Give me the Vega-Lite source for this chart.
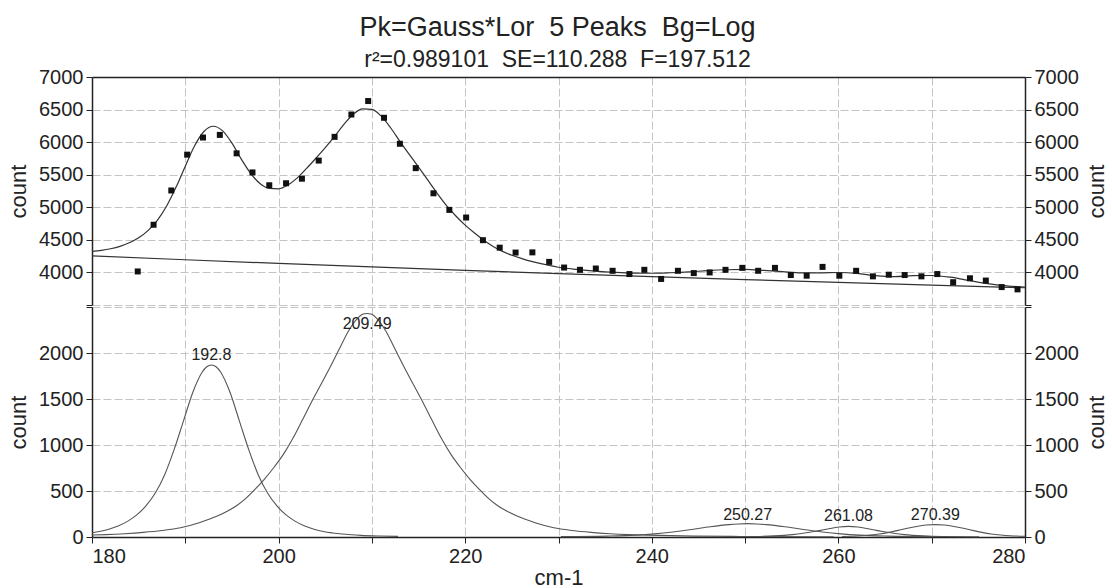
{
  "$schema": "https://vega.github.io/schema/vega-lite/v6.json",
  "background": "white",
  "padding": {"left": 7, "right": 0, "top": 14, "bottom": 0},
  "title": {
    "text": "Pk=Gauss*Lor\u00a0 5 Peaks\u00a0 Bg=Log",
    "subtitle": "r²=0.989101\u00a0 SE=110.288\u00a0 F=197.512",
    "font": "Liberation Sans", "fontSize": 27, "fontWeight": "normal", "color": "#222",
    "subtitleFont": "Liberation Sans", "subtitleFontSize": 23, "subtitleColor": "#222",
    "anchor": "middle", "offset": -6, "subtitlePadding": 7
  },
  "config": {
    "view": {"stroke": null},
    "axis": {
      "labelFont": "Liberation Sans", "labelFontSize": 20, "labelColor": "#222",
      "titleFont": "Liberation Sans", "titleFontSize": 22, "titleFontWeight": "normal", "titleColor": "#222",
      "domainColor": "#222", "domainWidth": 1.5, "tickColor": "#222", "tickSize": 6, "labelPadding": 3,
      "gridColor": "#c4c4c4", "gridDash": [8, 3], "gridWidth": 1
    }
  },
  "datasets": {
    "bg": [
      {"x": 180, "y": 4255}, {"x": 190, "y": 4195}, {"x": 200, "y": 4138}, {"x": 210, "y": 4084},
      {"x": 220, "y": 4032}, {"x": 230, "y": 3983}, {"x": 240, "y": 3936}, {"x": 250, "y": 3891},
      {"x": 260, "y": 3847}, {"x": 270, "y": 3805}, {"x": 280, "y": 3765}
    ],
    "fit": [
      {"x": 180, "y": 4324}, {"x": 181, "y": 4339}, {"x": 182, "y": 4364}, {"x": 183, "y": 4401},
      {"x": 184, "y": 4455}, {"x": 185, "y": 4532}, {"x": 186, "y": 4642}, {"x": 187, "y": 4798},
      {"x": 188, "y": 5019}, {"x": 189, "y": 5306}, {"x": 190, "y": 5631}, {"x": 191, "y": 5945},
      {"x": 192, "y": 6163}, {"x": 193, "y": 6244}, {"x": 194, "y": 6173}, {"x": 195, "y": 5985},
      {"x": 196, "y": 5740}, {"x": 197, "y": 5522}, {"x": 198, "y": 5365}, {"x": 199, "y": 5290},
      {"x": 200, "y": 5284}, {"x": 201, "y": 5341}, {"x": 202, "y": 5451}, {"x": 203, "y": 5597},
      {"x": 204, "y": 5753}, {"x": 205, "y": 5915}, {"x": 206, "y": 6089}, {"x": 207, "y": 6272},
      {"x": 208, "y": 6429}, {"x": 209, "y": 6512}, {"x": 210, "y": 6502}, {"x": 211, "y": 6399},
      {"x": 212, "y": 6221}, {"x": 213, "y": 6013}, {"x": 214, "y": 5812}, {"x": 215, "y": 5617},
      {"x": 216, "y": 5416}, {"x": 217, "y": 5214}, {"x": 218, "y": 5025}, {"x": 219, "y": 4866},
      {"x": 220, "y": 4726}, {"x": 221, "y": 4604}, {"x": 222, "y": 4494}, {"x": 223, "y": 4399},
      {"x": 224, "y": 4323}, {"x": 225, "y": 4264}, {"x": 226, "y": 4216}, {"x": 227, "y": 4173},
      {"x": 228, "y": 4139}, {"x": 229, "y": 4107}, {"x": 230, "y": 4080}, {"x": 232, "y": 4046},
      {"x": 234, "y": 4020}, {"x": 236, "y": 4001}, {"x": 238, "y": 3989}, {"x": 240, "y": 3987},
      {"x": 242, "y": 3995}, {"x": 244, "y": 4008}, {"x": 246, "y": 4028}, {"x": 248, "y": 4041},
      {"x": 250, "y": 4046}, {"x": 252, "y": 4031}, {"x": 254, "y": 4011}, {"x": 256, "y": 3992},
      {"x": 258, "y": 3992}, {"x": 260, "y": 3999}, {"x": 262, "y": 3985}, {"x": 264, "y": 3950},
      {"x": 266, "y": 3935}, {"x": 268, "y": 3950}, {"x": 270, "y": 3953}, {"x": 272, "y": 3927},
      {"x": 274, "y": 3877}, {"x": 276, "y": 3827}, {"x": 278, "y": 3794}, {"x": 280, "y": 3776}
    ],
    "pts": [
      {"x": 184.9, "y": 4015}, {"x": 186.6, "y": 4732}, {"x": 188.5, "y": 5258}, {"x": 190.2, "y": 5808},
      {"x": 191.9, "y": 6071}, {"x": 193.7, "y": 6111}, {"x": 195.5, "y": 5828}, {"x": 197.2, "y": 5535},
      {"x": 199.0, "y": 5338}, {"x": 200.8, "y": 5369}, {"x": 202.5, "y": 5439}, {"x": 204.3, "y": 5717},
      {"x": 206.0, "y": 6081}, {"x": 207.8, "y": 6424}, {"x": 209.6, "y": 6631}, {"x": 211.3, "y": 6374},
      {"x": 213.0, "y": 5975}, {"x": 214.7, "y": 5601}, {"x": 216.6, "y": 5215}, {"x": 218.3, "y": 4960},
      {"x": 220.1, "y": 4843}, {"x": 221.9, "y": 4495}, {"x": 223.7, "y": 4380}, {"x": 225.4, "y": 4305},
      {"x": 227.2, "y": 4308}, {"x": 229.0, "y": 4162}, {"x": 230.6, "y": 4075}, {"x": 232.3, "y": 4040},
      {"x": 234.0, "y": 4060}, {"x": 235.8, "y": 4025}, {"x": 237.6, "y": 3975}, {"x": 239.2, "y": 4040},
      {"x": 241.0, "y": 3900}, {"x": 242.8, "y": 4025}, {"x": 244.5, "y": 3990}, {"x": 246.2, "y": 4000},
      {"x": 247.9, "y": 4040}, {"x": 249.7, "y": 4070}, {"x": 251.4, "y": 4025}, {"x": 253.2, "y": 4070},
      {"x": 254.9, "y": 3960}, {"x": 256.6, "y": 3950}, {"x": 258.3, "y": 4085}, {"x": 260.1, "y": 3950},
      {"x": 261.9, "y": 4025}, {"x": 263.7, "y": 3940}, {"x": 265.4, "y": 3965}, {"x": 267.1, "y": 3960},
      {"x": 268.9, "y": 3940}, {"x": 270.6, "y": 3975}, {"x": 272.3, "y": 3850}, {"x": 274.1, "y": 3910},
      {"x": 275.8, "y": 3875}, {"x": 277.5, "y": 3775}, {"x": 279.2, "y": 3740}
    ],
    "peaks": [
      {"peak": "p1", "x": 180, "y": 47}, {"peak": "p1", "x": 180.8, "y": 60}, {"peak": "p1", "x": 181.8, "y": 85},
      {"peak": "p1", "x": 182.8, "y": 120}, {"peak": "p1", "x": 183.8, "y": 170}, {"peak": "p1", "x": 184.8, "y": 240},
      {"peak": "p1", "x": 185.8, "y": 340}, {"peak": "p1", "x": 186.8, "y": 480}, {"peak": "p1", "x": 187.8, "y": 680},
      {"peak": "p1", "x": 188.8, "y": 950}, {"peak": "p1", "x": 189.8, "y": 1260}, {"peak": "p1", "x": 190.8, "y": 1570},
      {"peak": "p1", "x": 191.8, "y": 1790}, {"peak": "p1", "x": 192.3, "y": 1850}, {"peak": "p1", "x": 192.8, "y": 1870},
      {"peak": "p1", "x": 193.3, "y": 1850}, {"peak": "p1", "x": 193.8, "y": 1790}, {"peak": "p1", "x": 194.8, "y": 1570},
      {"peak": "p1", "x": 195.8, "y": 1260}, {"peak": "p1", "x": 196.8, "y": 950}, {"peak": "p1", "x": 197.8, "y": 680},
      {"peak": "p1", "x": 198.8, "y": 480}, {"peak": "p1", "x": 199.8, "y": 340}, {"peak": "p1", "x": 200.8, "y": 240},
      {"peak": "p1", "x": 201.8, "y": 170}, {"peak": "p1", "x": 202.8, "y": 120}, {"peak": "p1", "x": 203.8, "y": 85},
      {"peak": "p1", "x": 204.8, "y": 60}, {"peak": "p1", "x": 205.8, "y": 44}, {"peak": "p1", "x": 206.8, "y": 32},
      {"peak": "p1", "x": 207.8, "y": 24}, {"peak": "p1", "x": 208.8, "y": 18}, {"peak": "p1", "x": 210.8, "y": 11},
      {"peak": "p1", "x": 212.8, "y": 7},
      {"peak": "p2", "x": 180, "y": 21}, {"peak": "p2", "x": 181.49, "y": 26}, {"peak": "p2", "x": 183.49, "y": 36},
      {"peak": "p2", "x": 185.49, "y": 50}, {"peak": "p2", "x": 187.49, "y": 70}, {"peak": "p2", "x": 189.49, "y": 100},
      {"peak": "p2", "x": 191.49, "y": 155}, {"peak": "p2", "x": 193.49, "y": 230}, {"peak": "p2", "x": 194.49, "y": 280},
      {"peak": "p2", "x": 195.49, "y": 340}, {"peak": "p2", "x": 196.49, "y": 420}, {"peak": "p2", "x": 197.49, "y": 520},
      {"peak": "p2", "x": 198.49, "y": 630}, {"peak": "p2", "x": 199.49, "y": 755}, {"peak": "p2", "x": 200.49, "y": 895},
      {"peak": "p2", "x": 201.49, "y": 1065}, {"peak": "p2", "x": 202.49, "y": 1260}, {"peak": "p2", "x": 203.49, "y": 1460},
      {"peak": "p2", "x": 204.49, "y": 1650}, {"peak": "p2", "x": 205.49, "y": 1840}, {"peak": "p2", "x": 206.49, "y": 2040},
      {"peak": "p2", "x": 207.49, "y": 2240}, {"peak": "p2", "x": 208.49, "y": 2380}, {"peak": "p2", "x": 208.99, "y": 2420},
      {"peak": "p2", "x": 209.49, "y": 2430}, {"peak": "p2", "x": 209.99, "y": 2420}, {"peak": "p2", "x": 210.49, "y": 2380},
      {"peak": "p2", "x": 211.49, "y": 2240}, {"peak": "p2", "x": 212.49, "y": 2040}, {"peak": "p2", "x": 213.49, "y": 1840},
      {"peak": "p2", "x": 214.49, "y": 1650}, {"peak": "p2", "x": 215.49, "y": 1460}, {"peak": "p2", "x": 216.49, "y": 1260},
      {"peak": "p2", "x": 217.49, "y": 1065}, {"peak": "p2", "x": 218.49, "y": 895}, {"peak": "p2", "x": 219.49, "y": 755},
      {"peak": "p2", "x": 220.49, "y": 630}, {"peak": "p2", "x": 221.49, "y": 520}, {"peak": "p2", "x": 222.49, "y": 420},
      {"peak": "p2", "x": 223.49, "y": 340}, {"peak": "p2", "x": 224.49, "y": 280}, {"peak": "p2", "x": 225.49, "y": 230},
      {"peak": "p2", "x": 227.49, "y": 155}, {"peak": "p2", "x": 229.49, "y": 100}, {"peak": "p2", "x": 231.49, "y": 70},
      {"peak": "p2", "x": 233.49, "y": 50}, {"peak": "p2", "x": 235.49, "y": 36}, {"peak": "p2", "x": 237.49, "y": 26},
      {"peak": "p2", "x": 239.49, "y": 20}, {"peak": "p2", "x": 244.49, "y": 10}, {"peak": "p2", "x": 249.49, "y": 6},
      {"peak": "p2", "x": 259.49, "y": 3},
      {"peak": "p3", "x": 230.27, "y": 4}, {"peak": "p3", "x": 235.27, "y": 10}, {"peak": "p3", "x": 238.27, "y": 20},
      {"peak": "p3", "x": 240.27, "y": 34}, {"peak": "p3", "x": 242.27, "y": 55}, {"peak": "p3", "x": 244.27, "y": 82},
      {"peak": "p3", "x": 246.27, "y": 112}, {"peak": "p3", "x": 248.27, "y": 135}, {"peak": "p3", "x": 249.27, "y": 142},
      {"peak": "p3", "x": 250.27, "y": 145}, {"peak": "p3", "x": 251.27, "y": 142}, {"peak": "p3", "x": 252.27, "y": 135},
      {"peak": "p3", "x": 254.27, "y": 112}, {"peak": "p3", "x": 256.27, "y": 82}, {"peak": "p3", "x": 258.27, "y": 55},
      {"peak": "p3", "x": 260.27, "y": 34}, {"peak": "p3", "x": 262.27, "y": 20}, {"peak": "p3", "x": 265.27, "y": 10},
      {"peak": "p3", "x": 270.27, "y": 4},
      {"peak": "p4", "x": 251.08, "y": 5}, {"peak": "p4", "x": 253.08, "y": 12}, {"peak": "p4", "x": 255.08, "y": 26},
      {"peak": "p4", "x": 256.08, "y": 38}, {"peak": "p4", "x": 257.08, "y": 55}, {"peak": "p4", "x": 258.08, "y": 72},
      {"peak": "p4", "x": 259.08, "y": 92}, {"peak": "p4", "x": 260.08, "y": 108}, {"peak": "p4", "x": 261.08, "y": 115},
      {"peak": "p4", "x": 262.08, "y": 108}, {"peak": "p4", "x": 263.08, "y": 92}, {"peak": "p4", "x": 264.08, "y": 72},
      {"peak": "p4", "x": 265.08, "y": 55}, {"peak": "p4", "x": 266.08, "y": 38}, {"peak": "p4", "x": 267.08, "y": 26},
      {"peak": "p4", "x": 269.08, "y": 12}, {"peak": "p4", "x": 271.08, "y": 5}, {"peak": "p4", "x": 275.08, "y": 2},
      {"peak": "p5", "x": 260.39, "y": 6}, {"peak": "p5", "x": 262.39, "y": 14}, {"peak": "p5", "x": 263.39, "y": 22},
      {"peak": "p5", "x": 264.39, "y": 33}, {"peak": "p5", "x": 265.39, "y": 50}, {"peak": "p5", "x": 266.39, "y": 72},
      {"peak": "p5", "x": 267.39, "y": 95}, {"peak": "p5", "x": 268.39, "y": 115}, {"peak": "p5", "x": 269.39, "y": 130},
      {"peak": "p5", "x": 270.39, "y": 135}, {"peak": "p5", "x": 271.39, "y": 130}, {"peak": "p5", "x": 272.39, "y": 115},
      {"peak": "p5", "x": 273.39, "y": 95}, {"peak": "p5", "x": 274.39, "y": 72}, {"peak": "p5", "x": 275.39, "y": 50},
      {"peak": "p5", "x": 276.39, "y": 33}, {"peak": "p5", "x": 277.39, "y": 22}, {"peak": "p5", "x": 278.39, "y": 14},
      {"peak": "p5", "x": 280, "y": 8}
    ],
    "labels": [
      {"x": 192.8, "ly": 1975, "t": "192.8"},
      {"x": 209.49, "ly": 2312, "t": "209.49"},
      {"x": 250.27, "ly": 238, "t": "250.27"},
      {"x": 261.08, "ly": 230, "t": "261.08"},
      {"x": 270.39, "ly": 236, "t": "270.39"}
    ]
  },
  "spacing": 0,
  "vconcat": [
    {
      "width": 933, "height": 228,
      "resolve": {"axis": {"y": "independent"}},
      "layer": [
        {
          "data": {"name": "bg"},
          "mark": {"type": "line", "color": "#333", "strokeWidth": 1.2},
          "encoding": {
            "x": {"field": "x", "type": "quantitative", "scale": {"domain": [180, 280], "nice": false},
                  "axis": {"orient": "top", "values": [180, 190, 200, 210, 220, 230, 240, 250, 260, 270, 280], "labels": false, "ticks": false, "grid": true, "title": null}},
            "y": {"field": "y", "type": "quantitative", "scale": {"domain": [3500, 7000], "nice": false, "zero": false},
                  "axis": {"orient": "left", "values": [3500, 4000, 4500, 5000, 5500, 6000, 6500, 7000], "format": "d",
                           "labelExpr": "datum.value < 4000 ? '' : datum.label", "grid": true, "title": "count", "titlePadding": 8}}
          }
        },
        {
          "data": {"name": "fit"},
          "mark": {"type": "line", "color": "#333", "strokeWidth": 1.2, "interpolate": "monotone"},
          "encoding": {
            "x": {"field": "x", "type": "quantitative", "scale": {"domain": [180, 280], "nice": false}},
            "y": {"field": "y", "type": "quantitative", "scale": {"domain": [3500, 7000], "nice": false, "zero": false},
                  "axis": {"orient": "right", "values": [3500, 4000, 4500, 5000, 5500, 6000, 6500, 7000], "format": "d",
                           "labelExpr": "datum.value < 4000 ? '' : datum.label", "grid": false, "title": "count", "titleAngle": 270, "titleBaseline": "top", "titlePadding": 8}}
          }
        },
        {
          "data": {"name": "pts"},
          "mark": {"type": "square", "size": 36, "color": "#111", "opacity": 1},
          "encoding": {
            "x": {"field": "x", "type": "quantitative", "scale": {"domain": [180, 280], "nice": false}},
            "y": {"field": "y", "type": "quantitative", "scale": {"domain": [3500, 7000], "nice": false, "zero": false}, "axis": null}
          }
        }
      ]
    },
    {
      "width": 933, "height": 230,
      "resolve": {"axis": {"y": "independent"}},
      "layer": [
        {
          "data": {"name": "peaks"},
          "mark": {"type": "line", "color": "#555", "strokeWidth": 1.1, "interpolate": "monotone"},
          "encoding": {
            "x": {"field": "x", "type": "quantitative", "scale": {"domain": [180, 280], "nice": false},
                  "axis": {"orient": "bottom", "values": [180, 190, 200, 210, 220, 230, 240, 250, 260, 270, 280], "format": "d",
                           "labelExpr": "datum.value % 20 === 0 ? datum.label : ''", "grid": true, "title": "cm-1", "titlePadding": 1}},
            "y": {"field": "y", "type": "quantitative", "scale": {"domain": [0, 2500], "nice": false},
                  "axis": {"orient": "left", "values": [0, 500, 1000, 1500, 2000, 2500], "format": "d",
                           "labelExpr": "datum.value > 2000 ? '' : datum.label", "grid": true, "title": "count", "titlePadding": 8}},
            "detail": {"field": "peak", "type": "nominal"}
          }
        },
        {
          "data": {"name": "labels"},
          "mark": {"type": "text", "font": "Liberation Sans", "fontSize": 16, "color": "#222", "baseline": "middle", "align": "center"},
          "encoding": {
            "x": {"field": "x", "type": "quantitative", "scale": {"domain": [180, 280], "nice": false}},
            "y": {"field": "ly", "type": "quantitative", "scale": {"domain": [0, 2500], "nice": false},
                  "axis": {"orient": "right", "values": [0, 500, 1000, 1500, 2000, 2500], "format": "d",
                           "labelExpr": "datum.value > 2000 ? '' : datum.label", "grid": false, "title": "count", "titleAngle": 270, "titleBaseline": "top", "titlePadding": 8}},
            "text": {"field": "t", "type": "nominal"}
          }
        }
      ]
    }
  ]
}
